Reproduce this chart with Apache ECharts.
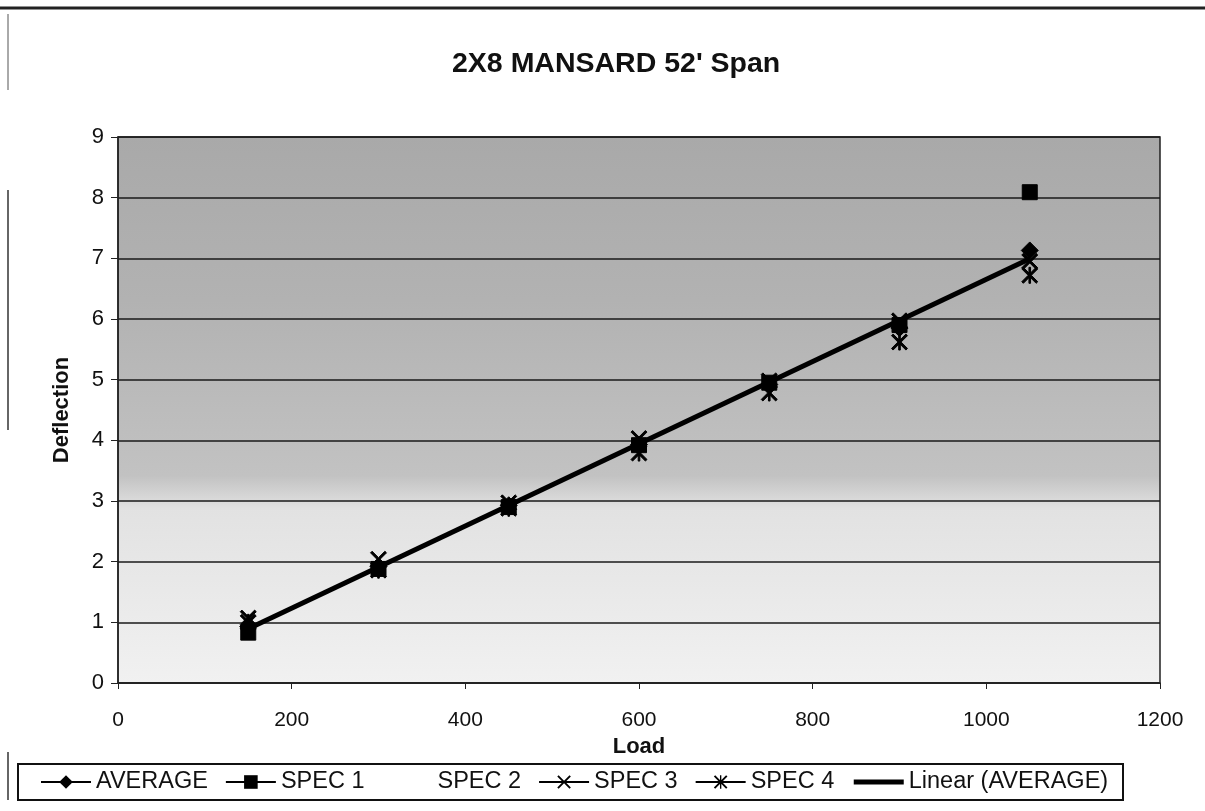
<!DOCTYPE html>
<html>
<head>
<meta charset="utf-8">
<title>2X8 MANSARD 52' Span</title>
<script src="https://cdn.jsdelivr.net/npm/echarts@6/dist/echarts.min.js"></script>
<style>
  html, body { margin: 0; padding: 0; background: #ffffff; }
  #chart { width: 1205px; height: 811px; }
</style>
</head>
<body>
<div id="chart"></div>
<script>
// Load steps (x) and measured deflection for each specimen
const loads   = [150, 300, 450, 600, 750, 900, 1050];
const average = [0.93, 1.92, 2.93, 3.93, 4.92, 5.85, 7.13];
const spec1   = [0.83, 1.88, 2.90, 3.92, 4.95, 5.90, 8.09];
const spec2   = [];
const spec3   = [1.07, 2.04, 2.97, 4.03, 4.98, 5.97, 6.95];
const spec4   = [1.00, 1.86, 2.88, 3.79, 4.78, 5.62, 6.72];

const xTicks = [0, 200, 400, 600, 800, 1000, 1200];
const yTicks = [0, 1, 2, 3, 4, 5, 6, 7, 8, 9];

// Least-squares fit of the AVERAGE series, drawn over the loaded range
function linearFit(xs, ys) {
  const n = xs.length;
  const mx = xs.reduce((a, b) => a + b, 0) / n;
  const my = ys.reduce((a, b) => a + b, 0) / n;
  let sxy = 0, sxx = 0;
  for (let i = 0; i < n; i++) {
    sxy += (xs[i] - mx) * (ys[i] - my);
    sxx += (xs[i] - mx) * (xs[i] - mx);
  }
  const slope = sxy / sxx;
  const icpt = my - slope * mx;
  const x0 = xs[0], x1 = xs[n - 1];
  return [[x0, icpt + slope * x0], [x1, icpt + slope * x1]];
}

const pairs = ys => loads.slice(0, ys.length).map((x, i) => [x, ys[i]]);

// Marker shapes: a diagonal cross and a cross with a vertical bar
const crossPath = 'path://M0,2L2,0L10,8L18,0L20,2L12,10L20,18L18,20L10,12L2,20L0,18L8,10Z';
const starPath  = 'path://M0,2L2,0L10,8L18,0L20,2L12,10L20,18L18,20L10,12L2,20L0,18L8,10Z M9,0L11,0L11,20L9,20Z';

const FONT = '"Liberation Sans", Arial, sans-serif';

const markerSeries = (name, data, symbol, size) => ({
  name, type: 'line', data: pairs(data),
  symbol, symbolSize: size, showSymbol: true,
  lineStyle: { width: 0, opacity: 0 },
  itemStyle: { color: '#000', borderColor: '#000' },
  z: 3, animation: false
});

const chart = echarts.init(document.getElementById('chart'));
chart.setOption({
  backgroundColor: '#ffffff',
  animation: false,
  title: {
    text: "2X8 MANSARD 52' Span",
    left: 447, top: 45,
    textStyle: { fontFamily: FONT, fontSize: 28.5, fontWeight: 'bold', color: '#111' }
  },
  grid: {
    left: 118, right: 45, top: 137, bottom: 128,
    show: true,
    borderColor: '#222', borderWidth: 1.5,
    backgroundColor: {
      type: 'linear', x: 0, y: 0, x2: 0, y2: 1,
      colorStops: [
        { offset: 0, color: '#a9a9a9' },
        { offset: 0.3, color: '#b2b2b2' },
        { offset: 0.62, color: '#c2c2c2' },
        { offset: 0.68, color: '#e2e2e2' },
        { offset: 1, color: '#f1f1f1' }
      ]
    }
  },
  xAxis: {
    type: 'value', min: xTicks[0], max: xTicks[xTicks.length - 1], interval: 200,
    name: 'Load', nameLocation: 'middle', nameGap: 50,
    nameTextStyle: { fontFamily: FONT, fontSize: 22, fontWeight: 'bold', color: '#111' },
    axisLine: { show: true, lineStyle: { color: '#222', width: 1.5 } },
    axisTick: { show: true, inside: false, length: 6, lineStyle: { color: '#222' } },
    axisLabel: {
      fontFamily: FONT, fontSize: 21, color: '#111', margin: 27,
      formatter: v => String(v)
    },
    splitLine: { show: false }
  },
  yAxis: {
    type: 'value', min: yTicks[0], max: yTicks[yTicks.length - 1], interval: 1,
    name: 'Deflection', nameLocation: 'middle', nameGap: 45,
    nameTextStyle: { fontFamily: FONT, fontSize: 22, fontWeight: 'bold', color: '#111' },
    axisLine: { show: true, lineStyle: { color: '#222', width: 1.5 } },
    axisTick: { show: true, inside: false, length: 7, lineStyle: { color: '#222' } },
    axisLabel: {
      fontFamily: FONT, fontSize: 22, color: '#111', margin: 14,
      formatter: v => String(v)
    },
    splitLine: { show: true, lineStyle: { color: '#1a1a1a', width: 1.5 } }
  },
  legend: {
    left: 40, top: 770,
    orient: 'horizontal',
    padding: 0,
    itemGap: 17, itemWidth: 50, itemHeight: 17,
    textStyle: { fontFamily: FONT, fontSize: 23.5, color: '#111' },
    lineStyle: { width: 2, color: '#000', opacity: 1 },
    data: [
      { name: 'AVERAGE' },
      { name: 'SPEC 1' },
      { name: 'SPEC 2', itemStyle: { opacity: 0 }, lineStyle: { opacity: 0 } },
      { name: 'SPEC 3' },
      { name: 'SPEC 4' },
      { name: 'Linear (AVERAGE)', itemStyle: { opacity: 0 }, lineStyle: { width: 5, color: '#000', opacity: 1 } }
    ]
  },
  graphic: [
    { type: 'line', shape: { x1: 0, y1: 8, x2: 1205, y2: 8 }, style: { stroke: '#222', lineWidth: 3 } },
    { type: 'line', shape: { x1: 8, y1: 14, x2: 8, y2: 90 }, style: { stroke: '#555', lineWidth: 1 } },
    { type: 'line', shape: { x1: 8, y1: 190, x2: 8, y2: 430 }, style: { stroke: '#333', lineWidth: 1.5 } },
    { type: 'line', shape: { x1: 8, y1: 752, x2: 8, y2: 800 }, style: { stroke: '#333', lineWidth: 1.5 } },
    {
      type: 'rect', z: -1,
      shape: { x: 18, y: 764, width: 1105, height: 36 },
      style: { fill: '#fff', stroke: '#111', lineWidth: 2 }
    }
  ],
  series: [
    {
      name: 'Linear (AVERAGE)', type: 'line', data: linearFit(loads, average),
      symbol: 'none', showSymbol: false,
      lineStyle: { color: '#000', width: 5 },
      itemStyle: { color: '#000' },
      z: 2, animation: false
    },
    markerSeries('AVERAGE', average, 'diamond', 17),
    markerSeries('SPEC 1', spec1, 'rect', 15),
    {
      name: 'SPEC 2', type: 'line', data: pairs(spec2),
      symbol: 'none', showSymbol: false,
      lineStyle: { width: 0, opacity: 0 },
      itemStyle: { color: '#000', opacity: 0 },
      animation: false
    },
    markerSeries('SPEC 3', spec3, crossPath, 16),
    markerSeries('SPEC 4', spec4, starPath, 16)
  ]
});
</script>
</body>
</html>
